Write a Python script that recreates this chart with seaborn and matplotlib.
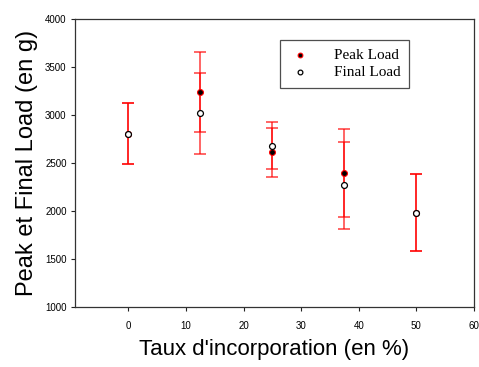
import matplotlib
matplotlib.use("Agg")
import matplotlib.pyplot as plt
import seaborn as sns
import pandas as pd

taux = [0, 12.5, 25, 37.5, 50]
peak_load = [2805, 3240, 2611, 2396, 1983]
peak_err = [315, 415, 255, 455, 400]
final_load = [2805, 3016, 2681, 2268, 1983]
final_err = [315, 420, 245, 455, 400]

sns.set_theme(style="ticks")
plt.rcParams['font.family'] = ['Liberation Sans', 'DejaVu Sans']
plt.rcParams['text.color'] = 'black'
plt.rcParams['axes.labelcolor'] = 'black'

fig = plt.figure(figsize=(4.79, 3.67), dpi=100)
ax = fig.add_axes([0.1566, 0.1635, 0.8330, 0.7847])

df = pd.DataFrame({
    "x": taux * 2,
    "y": peak_load + final_load,
    "err": peak_err + final_err,
    "serie": ["Peak Load"] * len(taux) + ["Final Load"] * len(taux),
})

for s in ["Peak Load", "Final Load"]:
    d = df[df.serie == s]
    ax.errorbar(d.x, d.y, yerr=d.err, fmt='none', ecolor='red', alpha=0.65,
                elinewidth=1.3, capsize=4, capthick=1.3, zorder=2)

pk = df[df.serie == "Peak Load"]
fl = df[df.serie == "Final Load"]
sns.scatterplot(x=pk.x, y=pk.y, ax=ax, marker='o', s=18, color='black',
                edgecolor='red', linewidth=0.8, zorder=3, label="Peak Load")
sns.scatterplot(x=fl.x, y=fl.y, ax=ax, marker='o', s=18, color='white',
                edgecolor='black', linewidth=0.9, zorder=4, label="Final Load")

ax.set_xlim(-9.25, 60)
ax.set_ylim(1000, 4000)
ax.set_xticks([0, 10, 20, 30, 40, 50, 60])
ax.set_yticks([1000, 1500, 2000, 2500, 3000, 3500, 4000])
ax.tick_params(axis='both', labelsize=7, direction='out', length=3, width=0.8,
               colors='#222222', labelcolor='black', top=False, right=False, pad=3)
ax.tick_params(axis='x', pad=7)
for sp in ax.spines.values():
    sp.set_color('#333333')
    sp.set_linewidth(0.9)
    sp.set_visible(True)

ax.set_xlabel("Taux d'incorporation (en %)", fontsize=16, labelpad=6, color='black')
ax.set_ylabel("Peak et Final Load (en g)", fontsize=17, labelpad=5, color='black')

leg = ax.legend(loc='upper left', bbox_to_anchor=(0.494, 0.955),
                prop={'family': ['Liberation Serif', 'DejaVu Serif'], 'size': 11},
                frameon=True, fancybox=False, edgecolor='#222222',
                handletextpad=1.4, borderpad=0.55, labelspacing=0.25,
                handlelength=1.6, markerscale=0.8)
leg.get_frame().set_linewidth(0.9)
for t in leg.get_texts():
    t.set_color('black')

fig.savefig("out.png", dpi=100)
